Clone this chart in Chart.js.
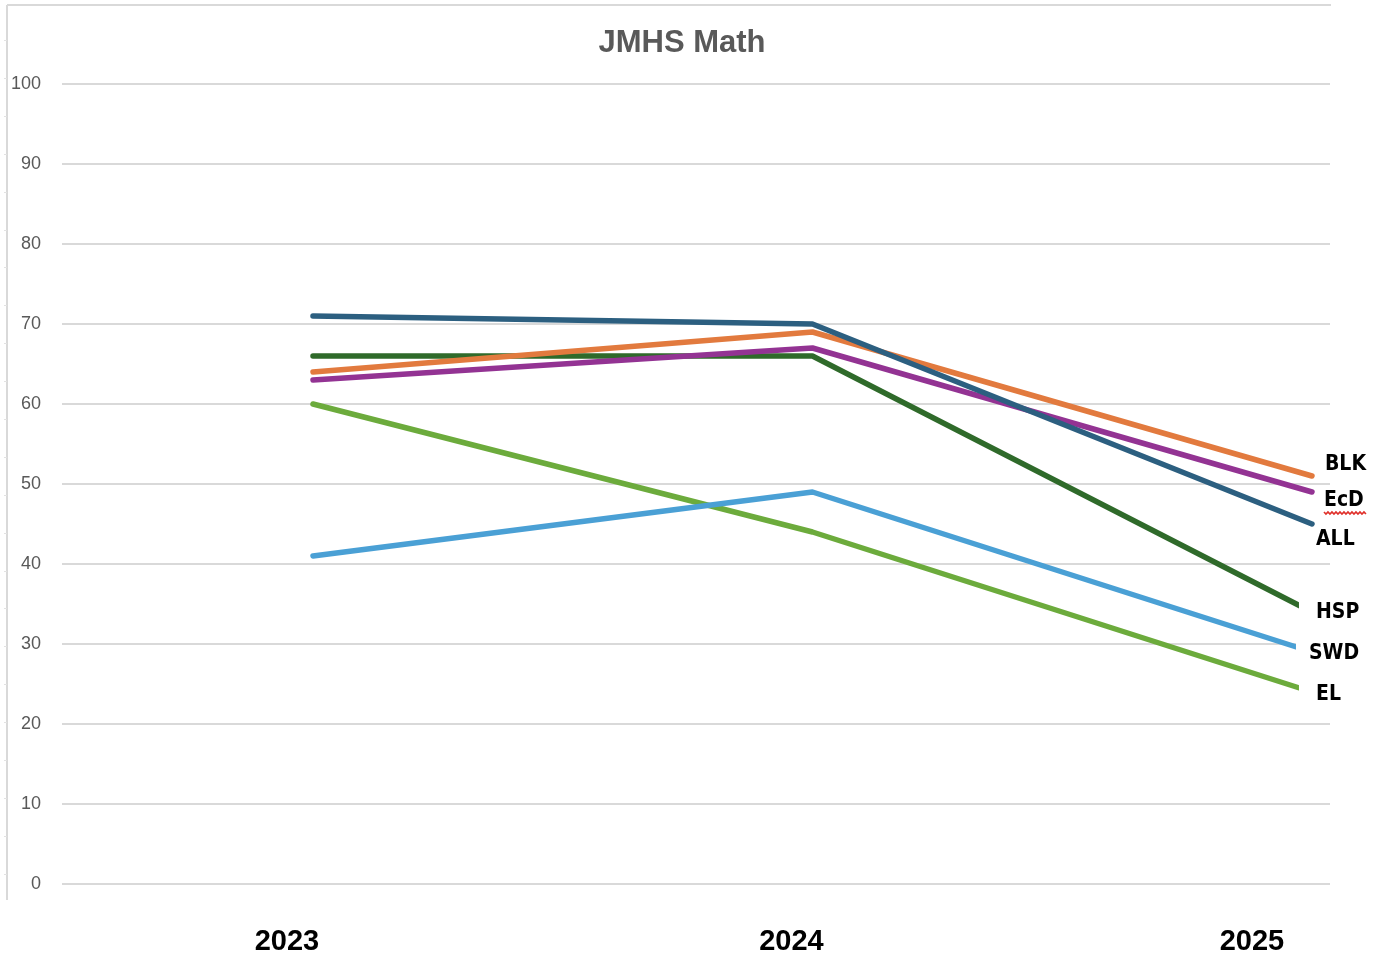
<!DOCTYPE html>
<html>
<head>
<meta charset="utf-8">
<title>JMHS Math</title>
<script src="https://cdn.jsdelivr.net/npm/chart.js@4/dist/chart.umd.min.js"></script>
<style>
  html, body { margin: 0; padding: 0; background: #ffffff; }
  #wrap { width: 1379px; height: 957px; position: relative; }
  canvas { display: block; }
</style>
</head>
<body>
<div id="wrap"><canvas id="chart" width="1379" height="957"></canvas></div>
<script>
// ---- data ----
const years = ['2023', '2024', '2025'];
const groups = ['ALL', 'BLK', 'EcD', 'HSP', 'SWD', 'EL'];
const allStudents = [71, 70, 45];
const blk = [64, 69, 51];
const ecd = [63, 67, 49];
const hsp = [66, 66, 34];
const swd = [41, 49, 29];
const el = [60, 44, 24];
const yTicks = [0, 10, 20, 30, 40, 50, 60, 70, 80, 90, 100];

const seriesValues = [allStudents, blk, ecd, hsp, swd, el];
const seriesColors = ['#2C5F80', '#E27A3E', '#933393', '#2F6A2A', '#4AA0D5', '#6CAB3C'];

// label placement beside each line's last point (offsets in px, mask = white box behind text)
const endLabelStyle = {
  ALL: { dx: 4, dy: 16, mask: false },
  BLK: { dx: 13, dy: -11, mask: false },
  EcD: { dx: 12, dy: 9, mask: false, squiggle: true },
  HSP: { dx: 4, dy: 1, mask: true, pad: 17 },
  SWD: { dx: -3, dy: 2, mask: true, pad: 13 },
  EL: { dx: 4, dy: 3, mask: true, pad: 17 }
};
// horizontal nudge of each year label from its point column
const yearLabelShift = [-26, -21, -60];

const datasets = groups.map((g, i) => ({
  label: g,
  data: years.map((y, j) => ({ x: Number(y), y: seriesValues[i][j] })),
  borderColor: seriesColors[i],
  backgroundColor: seriesColors[i],
  borderWidth: 5.5,
  borderCapStyle: 'round',
  borderJoinStyle: 'round',
  pointRadius: 0,
  pointHoverRadius: 0,
  tension: 0,
  fill: false
}));

// outer frame with small ruler ticks on the left edge
const framePlugin = {
  id: 'frame',
  beforeDraw(chart) {
    const ctx = chart.ctx;
    ctx.save();
    ctx.fillStyle = '#ffffff';
    ctx.fillRect(0, 0, chart.width, chart.height);
    ctx.strokeStyle = '#D9D9D9';
    ctx.lineWidth = 2;
    ctx.beginPath();
    ctx.moveTo(7, 5); ctx.lineTo(1331, 5);
    ctx.moveTo(7, 5); ctx.lineTo(7, 900);
    ctx.stroke();
    ctx.lineWidth = 1;
    ctx.strokeStyle = '#E2E2E2';
    ctx.beginPath();
    for (let y = 40; y < 900; y += 37.9) {
      ctx.moveTo(4, Math.round(y) + 0.5); ctx.lineTo(7, Math.round(y) + 0.5);
    }
    ctx.stroke();
    ctx.restore();
  }
};

// title, year labels and end-of-line group labels
const textPlugin = {
  id: 'texts',
  afterDatasetsDraw(chart) {
    const ctx = chart.ctx;
    const xs = chart.scales.x;
    const ys = chart.scales.y;
    ctx.save();

    // title
    ctx.fillStyle = '#595959';
    ctx.font = 'bold 31px "Liberation Sans", Arial, sans-serif';
    ctx.textAlign = 'center';
    ctx.textBaseline = 'middle';
    ctx.fillText('JMHS Math', 682, 43);

    // year labels
    ctx.fillStyle = '#000000';
    ctx.font = 'bold 29px "Liberation Sans", Arial, sans-serif';
    years.forEach((y, i) => {
      ctx.fillText(y, xs.getPixelForValue(Number(y)) + yearLabelShift[i], 942);
    });

    // end labels
    ctx.font = 'bold 21px "Liberation Sans Narrow", "DejaVu Sans Condensed", "Liberation Sans", sans-serif';
    ctx.textAlign = 'left';
    groups.forEach((g, i) => {
      const st = endLabelStyle[g];
      const last = seriesValues[i][seriesValues[i].length - 1];
      const px = xs.getPixelForValue(Number(years[years.length - 1]));
      const py = ys.getPixelForValue(last);
      const tx = px + st.dx;
      const ty = py + st.dy;
      const w = ctx.measureText(g).width;
      if (st.mask) {
        ctx.fillStyle = '#ffffff';
        ctx.fillRect(tx - st.pad, ty - 12, w + st.pad + 4, 24);
      }
      ctx.fillStyle = '#000000';
      ctx.fillText(g, tx, ty);
      if (st.squiggle) {
        ctx.strokeStyle = '#E0302A';
        ctx.lineWidth = 1.6;
        ctx.beginPath();
        const base = ty + 11;
        for (let x = tx; x <= tx + w + 3; x += 2) {
          const yy = base + (((x - tx) / 2) % 2 === 0 ? 0 : 2);
          if (x === tx) ctx.moveTo(x, yy); else ctx.lineTo(x, yy);
        }
        ctx.stroke();
      }
    });
    ctx.restore();
  }
};

new Chart(document.getElementById('chart'), {
  type: 'line',
  data: { datasets },
  options: {
    responsive: false,
    animation: false,
    devicePixelRatio: 1,
    layout: { padding: { left: 0, right: 49, top: 84, bottom: 73 } },
    plugins: {
      legend: { display: false },
      title: { display: false },
      tooltip: { enabled: false }
    },
    scales: {
      x: {
        type: 'linear',
        min: 2022.4975,
        max: 2025.0361,
        display: false
      },
      y: {
        min: 0,
        max: 100,
        afterBuildTicks(scale) {
          scale.ticks = yTicks.map(v => ({ value: v }));
        },
        afterFit(scale) { scale.width = 62; },
        border: { display: false },
        grid: { color: '#D9D9D9', lineWidth: 2, drawTicks: false },
        ticks: {
          padding: 21,
          color: '#595959',
          font: { family: '"Liberation Sans", Arial, sans-serif', size: 18 }
        }
      }
    }
  },
  plugins: [framePlugin, textPlugin]
});
</script>
</body>
</html>
